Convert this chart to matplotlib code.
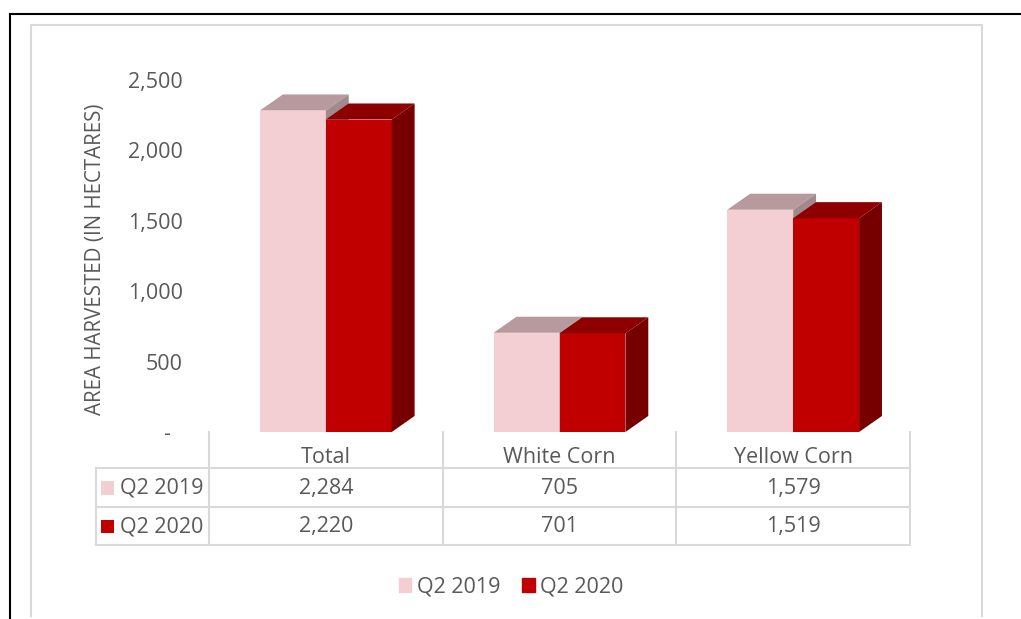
import matplotlib.pyplot as plt
from matplotlib.patches import Polygon, Patch
from matplotlib.lines import Line2D

# data
categories = ["Total", "White Corn", "Yellow Corn"]
series = ["Q2 2019", "Q2 2020"]
q2_2019 = [2284, 705, 1579]
q2_2020 = [2220, 701, 1519]
yticks = [0, 500, 1000, 1500, 2000, 2500]
ytick_labels = ["-  ", "500", "1,000", "1,500", "2,000", "2,500"]

# colors: front, top, side
c2019 = ("#F3CFD4", "#B89A9E", "#A08A8D")
c2020 = ("#C00000", "#8E0000", "#760000")
txt = "#595959"
grid = "#D9D9D9"

plt.rcParams["font.family"] = ["Open Sans", "DejaVu Sans"]
fs = 15.5

W, H = 1021, 619
fig = plt.figure(figsize=(W / 100, H / 100), dpi=100)

# axes in pixels: left 209, right 910, baseline 432, top 59
ax = fig.add_axes([209 / W, (H - 432) / H, 701 / W, 373 / H])
ax.set_xlim(-0.5, 2.5)
ax.set_ylim(0, 2650)
for s in ax.spines.values():
    s.set_visible(False)
ax.set_xticks([])
ax.set_yticks(yticks)
ax.set_yticklabels(ytick_labels)
ax.tick_params(axis="y", length=0, pad=19, labelsize=fs, labelcolor=txt)

width = 0.282
dx = 0.098   # depth in x data units
dy = 114     # depth in y data units


def bar3d(x, v, cols, z):
    front, top, side = cols
    ax.bar(x, v, width=width, color=front, zorder=z, linewidth=0)
    x0, x1 = x - width / 2, x + width / 2
    ax.add_patch(Polygon([(x0, v), (x1, v), (x1 + dx, v + dy), (x0 + dx, v + dy)],
                         closed=True, fc=top, ec="none", zorder=z))
    ax.add_patch(Polygon([(x1, 0), (x1 + dx, dy), (x1 + dx, v + dy), (x1, v)],
                         closed=True, fc=side, ec="none", zorder=z))


for i in range(len(categories)):
    bar3d(i - width / 2, q2_2019[i], c2019, 2)
    bar3d(i + width / 2, q2_2020[i], c2020, 3)

# data table under the axis (y in data units below zero)
y_row1, y_row2, y_bot = -256, -533, -803
x_leg = -0.984
lk = dict(color=grid, lw=1.5, clip_on=False, zorder=1)
for xv in [-0.5, 0.5, 1.5, 2.5]:
    ax.plot([xv, xv], [0, y_bot], **lk)
ax.plot([x_leg, x_leg], [y_row1, y_bot], **lk)
for yv in [y_row1, y_row2, y_bot]:
    ax.plot([x_leg, 2.5], [yv, yv], **lk)

y_head, y_r1, y_r2 = -182, -398, -673
for i, cat in enumerate(categories):
    ax.text(i, y_head, cat, ha="center", va="center", fontsize=fs, color=txt, clip_on=False)
    ax.text(i, y_r1, f"{q2_2019[i]:,}", ha="center", va="center", fontsize=fs, color=txt, clip_on=False)
    ax.text(i, y_r2, f"{q2_2020[i]:,}", ha="center", va="center", fontsize=fs, color=txt, clip_on=False)

for yc, name, col in [(y_r1, series[0], c2019[0]), (y_r2, series[1], c2020[0])]:
    ax.add_patch(Polygon([(-0.962, yc - 48), (-0.907, yc - 48), (-0.907, yc + 48), (-0.962, yc + 48)],
                         closed=True, fc=col, ec="none", clip_on=False))
    ax.text(-0.882, yc, name, ha="left", va="center", fontsize=fs, color=txt, clip_on=False)

# y axis title
fig.text(95 / W, 1 - 259 / H, "AREA HARVESTED (IN HECTARES)", rotation=90,
         ha="center", va="center", fontsize=14.8, color=txt)

# legend
handles = [Patch(color=c2019[0]), Patch(color=c2020[0])]
fig.legend(handles, series, loc="center", bbox_to_anchor=(511 / W, 1 - 587 / H), ncol=2,
           frameon=False, fontsize=fs, labelcolor=txt, handlelength=0.6, handleheight=0.6,
           handletextpad=0.25, columnspacing=1.0)

# frames
fig.add_artist(Line2D([10 / W, 1], [1 - 14 / H, 1 - 14 / H], color="black", lw=1.5))
fig.add_artist(Line2D([10 / W, 10 / W], [0, 1 - 14 / H], color="black", lw=1.5))
fig.add_artist(Line2D([31 / W, 31 / W, 982 / W, 982 / W], [3 / H, 1 - 25 / H, 1 - 25 / H, 3 / H],
                      color=grid, lw=1.5))

fig.savefig("out.png", dpi=100)
